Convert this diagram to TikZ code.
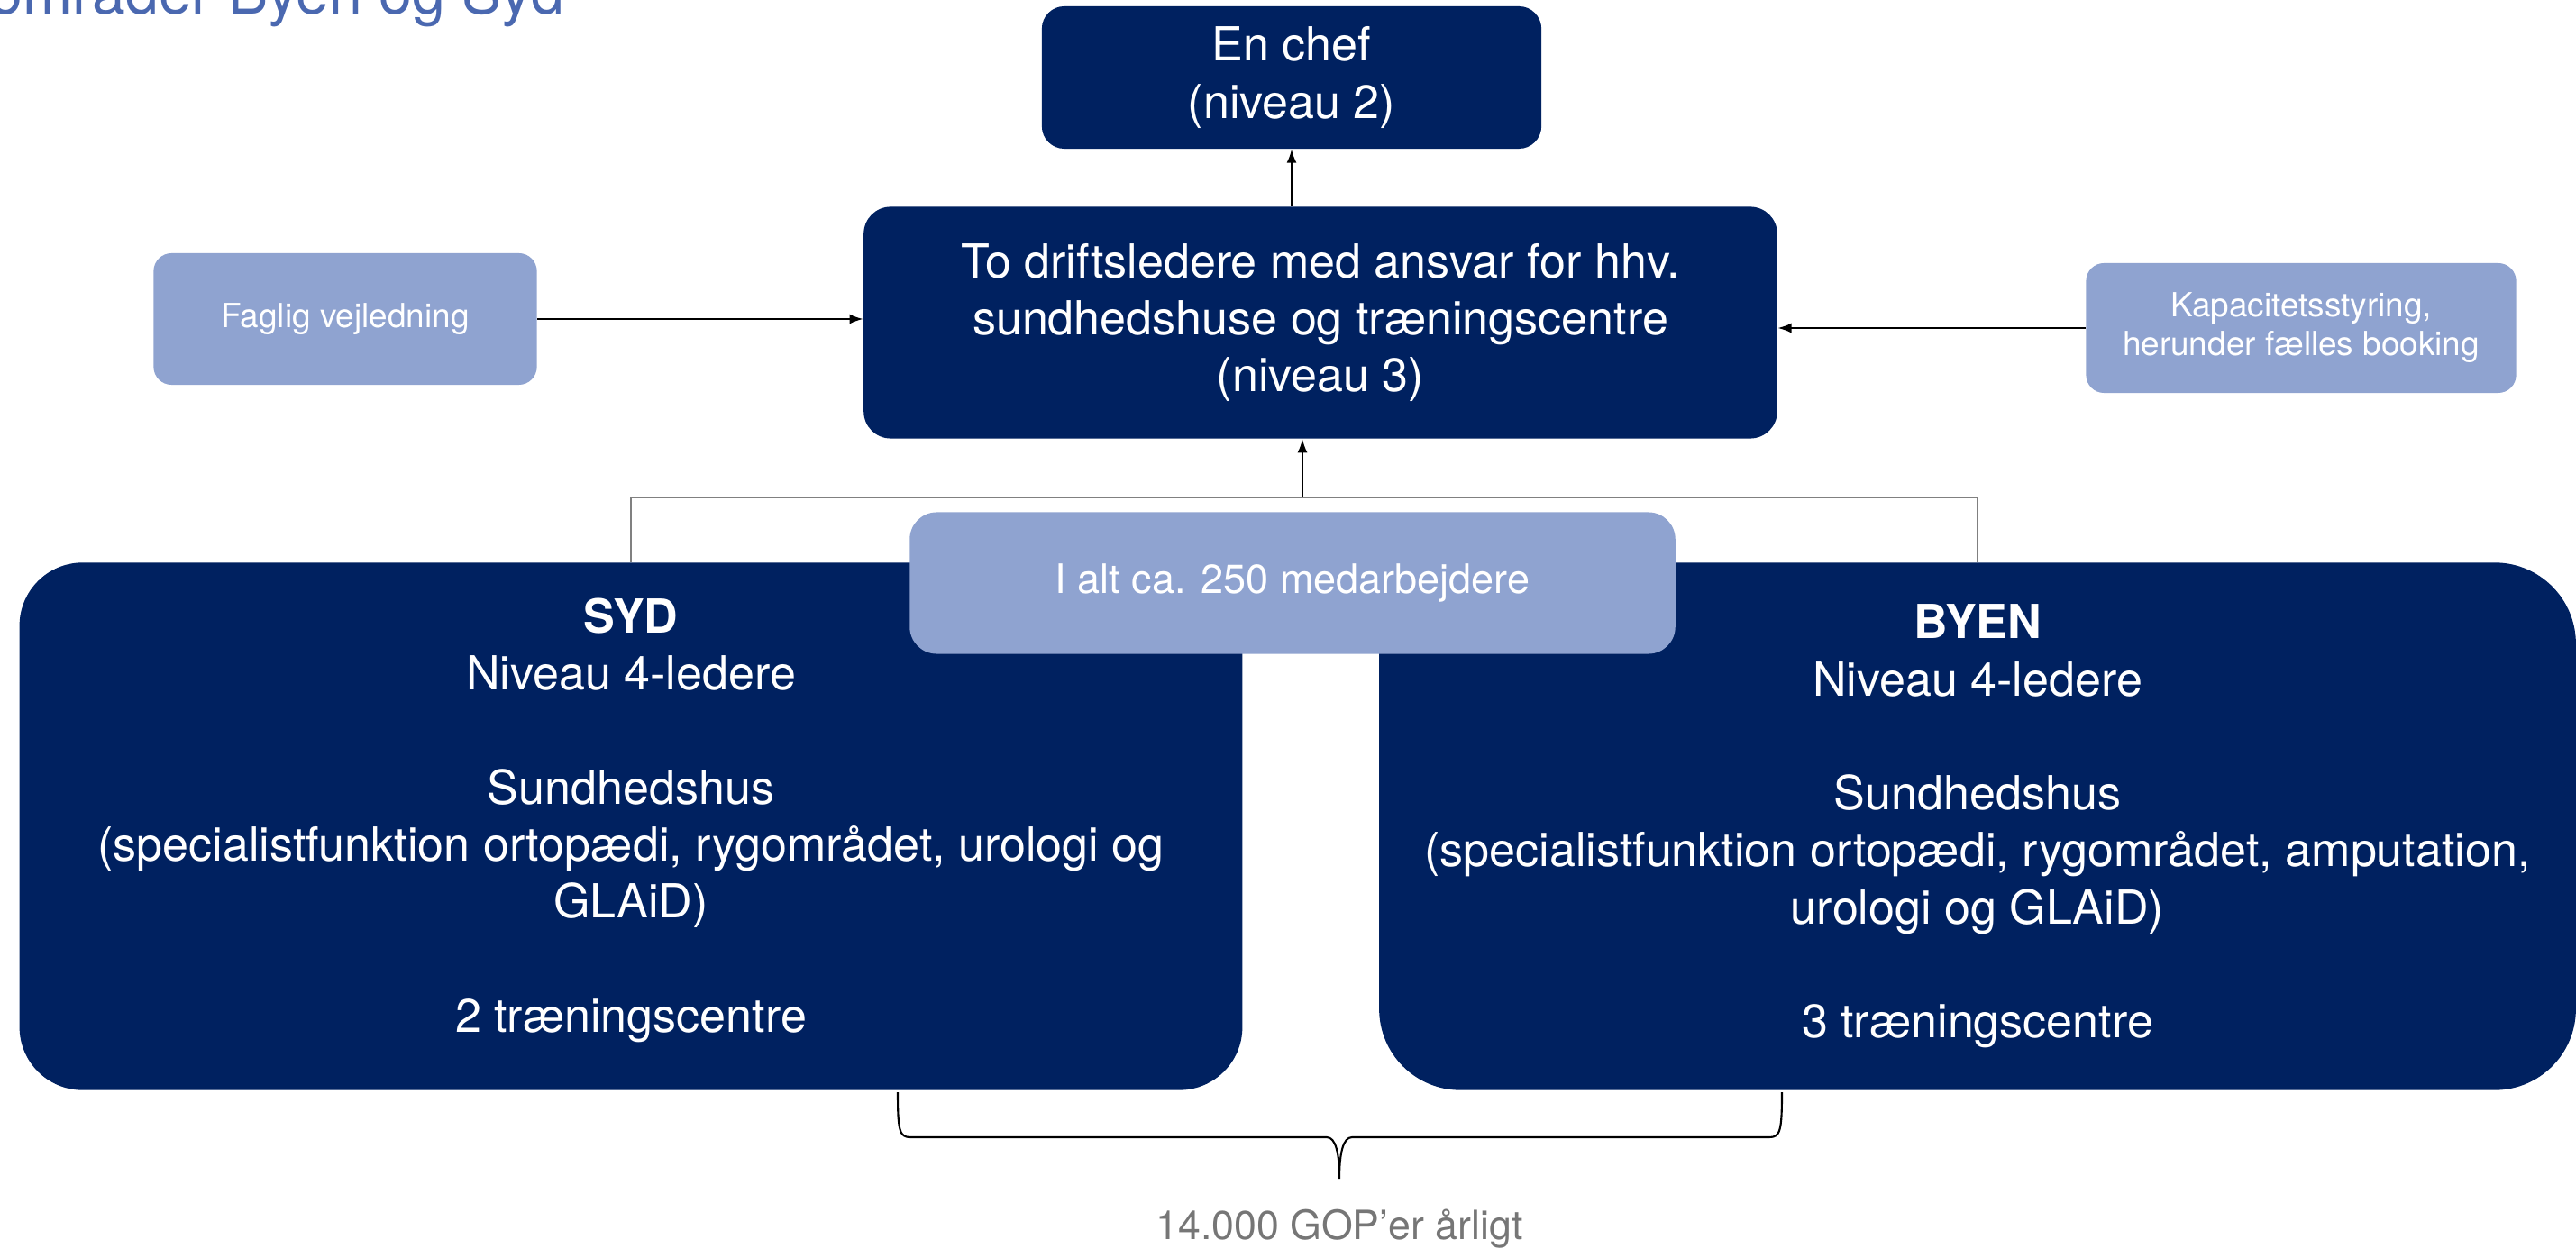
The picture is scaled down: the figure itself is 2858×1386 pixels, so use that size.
\documentclass[tikz,border=0pt]{standalone}
\usepackage{fontspec}
\setmainfont{TeX Gyre Heros}
\usetikzlibrary{arrows.meta}

\definecolor{navy}{RGB}{0,33,96}
\definecolor{paleblue}{RGB}{143,163,208}
\definecolor{titleblue}{RGB}{74,104,176}
\definecolor{textgray}{RGB}{118,118,118}

\begin{document}
\begin{tikzpicture}[x=0.01cm, y=-0.01cm,
  darkbox/.style={fill=navy, text=white, rounded corners=0.25cm, align=center,
    inner sep=0pt, font=\fontsize{14.8}{18}\selectfont},
  lightbox/.style={fill=paleblue, text=white, rounded corners=0.2cm, align=center,
    inner sep=0pt, font=\fontsize{10.5}{12.2}\selectfont},
  arr/.style={-{Latex[length=1.5mm,width=1.1mm]}, line width=0.5pt}]
  \useasboundingbox (0,0) rectangle (2858,1386);
  \clip (0,0) rectangle (2858,1386);

  % Title, cut by the top edge
  \node[anchor=base east, inner sep=0pt, text=titleblue,
    font=\fontsize{18.8}{22}\selectfont] (title) at (627,16) {områder Byen og Syd};

  % Leaders
  \node[darkbox, minimum width=5.54cm, minimum height=1.58cm] (chef) at (1433,86)
    {En chef\\(niveau 2)};
  \node[darkbox, minimum width=10.13cm, minimum height=2.57cm, rounded corners=0.3cm]
    (drift) at (1465,358)
    {To driftsledere med ansvar for hhv.\\sundhedshuse og træningscentre\\(niveau 3)};

  % Support on either side
  \node[lightbox, minimum width=4.25cm, minimum height=1.46cm] (faglig) at (383,354)
    {Faglig vejledning};
  \node[lightbox, minimum width=4.77cm, minimum height=1.44cm] (kapacitet) at (2553,364)
    {Kapacitetsstyring,\\herunder fælles booking};

  % The two areas
  \node[darkbox, minimum width=13.56cm, minimum height=5.85cm, rounded corners=0.7cm,
    text depth=0.25cm] (syd) at (700,917)
    {\textbf{SYD}\\Niveau 4-ledere\\[18pt]Sundhedshus\\
     (specialistfunktion ortopædi, rygområdet, urologi og\\GLAiD)\\[18pt]
     2 træningscentre};
  \node[darkbox, minimum width=13.27cm, minimum height=5.85cm, rounded corners=0.9cm]
    (byen) at (2194,917)
    {\textbf{BYEN}\\Niveau 4-ledere\\[18pt]Sundhedshus\\
     (specialistfunktion ortopædi, rygområdet, amputation,\\urologi og GLAiD)\\[18pt]
     3 træningscentre};
  \node[lightbox, minimum width=8.49cm, minimum height=1.57cm, rounded corners=0.3cm,
    font=\fontsize{12.8}{15}\selectfont] (ialt) at (1434,647) {I alt ca. 250 medarbejdere};

  % Connectors
  \coordinate (join) at (1445,552);
  \draw[arr] (chef.south |- drift.north) -- (chef.south);
  \draw[arr] (faglig.east) -- (drift.west |- faglig.east);
  \draw[arr] (kapacitet.west) -- (drift.east |- kapacitet.west);
  \draw[gray, line width=0.6pt] (syd.north) |- (join) -| (byen.north);
  \draw[arr] (join) -- (join |- drift.south);

  % Brace under both areas
  \draw[line width=0.6pt] (996,1212) .. controls (996,1255) and (998,1262) .. (1010,1262)
    -- (1472,1262) .. controls (1482,1262) and (1486,1280) .. (1486,1308)
    .. controls (1486,1280) and (1490,1262) .. (1500,1262)
    -- (1963,1262) .. controls (1975,1262) and (1977,1255) .. (1977,1212);
  \node[text=textgray, font=\fontsize{12.7}{15}\selectfont] (gop) at (1486,1364)
    {14.000 GOP’er årligt};
\end{tikzpicture}
\end{document}
